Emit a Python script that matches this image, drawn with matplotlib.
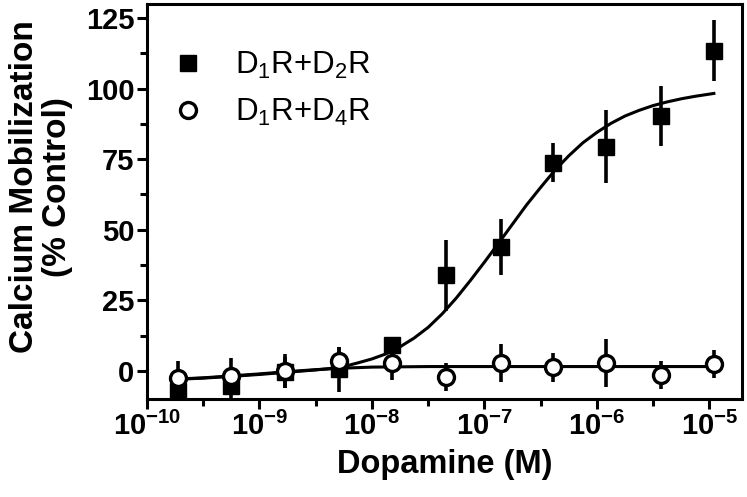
import numpy as np
import matplotlib
matplotlib.use("Agg")
import matplotlib.pyplot as plt
from matplotlib.lines import Line2D

plt.rcParams['font.family'] = 'Liberation Sans'
plt.rcParams['mathtext.fontset'] = 'custom'
plt.rcParams['mathtext.rm'] = 'Liberation Sans'
plt.rcParams['mathtext.it'] = 'Liberation Sans:italic'
plt.rcParams['mathtext.bf'] = 'Liberation Sans:bold'

# dopamine concentrations (M)
conc = [1.9e-10, 5.6e-10, 1.7e-9, 5.1e-9, 1.5e-8, 4.6e-8, 1.4e-7, 4.1e-7, 1.2e-6, 3.7e-6, 1.1e-5]

# D1R+D2R: mean and error
d2_mean = [-7.0, -5.5, -0.5, 0.6, 9.2, 33.8, 43.8, 73.8, 79.4, 90.2, 113.4]
d2_err = [3.0, 4.0, 5.5, 8.0, 2.0, 12.5, 10.0, 7.0, 13.0, 10.7, 10.8]

# D1R+D4R: mean and error
d4_mean = [-2.6, -1.8, -0.2, 3.3, 2.7, -2.2, 2.7, 1.2, 2.7, -1.4, 2.4]
d4_err = [6.0, 6.3, 6.0, 5.3, 5.9, 5.0, 6.7, 5.0, 8.5, 5.0, 4.8]

# fitted curves (log10 M, %)
d2_fit_logx = [-9.72, -9.5, -9.25, -9.0, -8.75, -8.625, -8.5, -8.375, -8.25, -8.125, -8.0,
               -7.875, -7.75, -7.625, -7.5, -7.375, -7.25, -7.125, -7.0, -6.875, -6.75,
               -6.625, -6.5, -6.375, -6.25, -6.125, -6.0, -5.875, -5.75, -5.625, -5.5,
               -5.375, -5.25, -5.125, -4.96]
d2_fit_y = [-3.0, -2.6, -2.0, -1.3, -0.5, -0.1, 0.3, 0.8, 1.5, 2.8, 4.2,
            6.0, 8.5, 11.6, 15.4, 20.2, 25.8, 32.0, 38.5, 45.2, 52.0,
            58.8, 65.0, 71.0, 76.2, 80.8, 84.5, 87.7, 90.3, 92.3, 94.0,
            95.3, 96.4, 97.3, 98.3]
d4_fit_logx = [-9.72, -9.5, -9.25, -9.0, -8.75, -8.5, -8.28, -8.0, -7.5, -4.96]
d4_fit_y = [-2.9, -2.5, -1.8, -1.1, -0.3, 0.4, 0.9, 1.3, 1.5, 1.5]

xticks = [1e-10, 1e-9, 1e-8, 1e-7, 1e-6, 1e-5]
xticklabels = [r'$\mathbf{10^{-10}}$', r'$\mathbf{10^{-9}}$', r'$\mathbf{10^{-8}}$',
               r'$\mathbf{10^{-7}}$', r'$\mathbf{10^{-6}}$', r'$\mathbf{10^{-5}}$']
yticks = [0, 25, 50, 75, 100, 125]

fig = plt.figure(figsize=(7.47, 4.97), dpi=100)
ax = fig.add_axes([147 / 747, 98 / 497, 595 / 747, 395 / 497])
ax.set_xscale('log')

# curves
ax.plot(10 ** np.array(d2_fit_logx), d2_fit_y, color='black', lw=2.2, zorder=2)
ax.plot(10 ** np.array(d4_fit_logx), d4_fit_y, color='black', lw=2.2, zorder=2)

# D2R points
ax.errorbar(conc, d2_mean, yerr=d2_err, fmt='none', ecolor='black', elinewidth=2.6, capsize=0, zorder=3)
ax.plot(conc, d2_mean, 's', color='black', ms=11.5, zorder=4)

# D4R points (drawn on top)
ax.errorbar(conc, d4_mean, yerr=d4_err, fmt='none', ecolor='black', elinewidth=2.6, capsize=0, zorder=5)
ax.plot(conc, d4_mean, 'o', mfc='white', mec='black', mew=2.4, ms=11.5, zorder=6)

ax.set_xlim(1e-10, 1.95e-5)
ax.set_ylim(-10, 130)

ax.set_xticks(xticks)
ax.set_xticklabels(xticklabels)
ax.set_xticks([10 ** (k + 0.5) for k in range(-10, -5)], minor=True)
ax.set_xticklabels([], minor=True)
ax.set_yticks(yticks)
ax.set_yticklabels([str(v) for v in yticks], fontweight='bold')
ax.set_yticks([12.5, 37.5, 62.5, 87.5, 112.5], minor=True)

ax.tick_params(axis='both', which='major', length=7, width=2.2, labelsize=21, pad=2)
ax.tick_params(axis='both', which='minor', length=5, width=2.2)
for s in ax.spines.values():
    s.set_linewidth(2.2)

ax.set_xlabel('Dopamine (M)', fontsize=23.5, fontweight='bold', labelpad=6)
fig.text(41 / 747, 1 - 187 / 497, 'Calcium Mobilization\n(% Control)', rotation=90,
         ha='center', va='center', multialignment='center', fontsize=24, fontweight='bold',
         linespacing=1.05)

handles = [Line2D([], [], marker='s', ls='none', color='black', ms=11.5),
           Line2D([], [], marker='o', ls='none', mfc='white', mec='black', mew=2.4, ms=11.5)]
ax.legend(handles, [r'D$_1$R+D$_2$R', r'D$_1$R+D$_4$R'], loc='upper left',
          bbox_to_anchor=(-0.01, 0.955), frameon=False, fontsize=22.5,
          handletextpad=0.9, labelspacing=0.5, handlelength=1.2)

fig.savefig('out.png', dpi=100)
